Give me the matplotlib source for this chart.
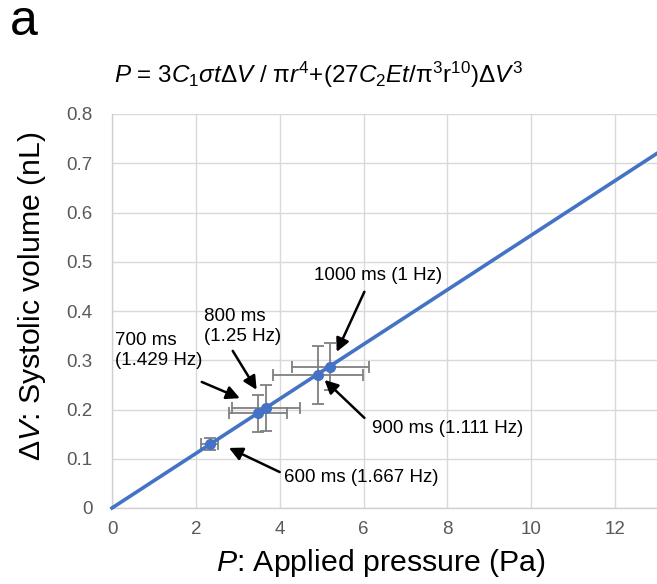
import matplotlib
matplotlib.use("Agg")
import matplotlib.pyplot as plt
import numpy as np

plt.rcParams['font.family'] = ['Liberation Sans', 'DejaVu Sans']
plt.rcParams['mathtext.fontset'] = 'custom'
plt.rcParams['mathtext.rm'] = 'Liberation Sans'
plt.rcParams['mathtext.it'] = 'Liberation Sans:italic'
plt.rcParams['mathtext.bf'] = 'Liberation Sans:bold'

# Data
labels = ["600 ms (1.667 Hz)", "700 ms\n(1.429 Hz)", "800 ms\n(1.25 Hz)",
          "900 ms (1.111 Hz)", "1000 ms (1 Hz)"]
pressure = [2.33, 3.48, 3.68, 4.91, 5.21]
pressure_err = [0.20, 0.70, 0.81, 1.07, 0.92]
volume = [0.130, 0.192, 0.203, 0.270, 0.287]
volume_err = [0.012, 0.038, 0.046, 0.059, 0.048]
fit_x = [0, 13]
fit_y = [0, 0.72]
xticks = [0, 2, 4, 6, 8, 10, 12]
yticks = [0, 0.1, 0.2, 0.3, 0.4, 0.5, 0.6, 0.7, 0.8]

blue = '#4472C4'
W, H = 657, 584
fig = plt.figure(figsize=(W / 100, H / 100), dpi=100)
ax = fig.add_axes([112 / W, 1 - 508 / H, (W - 112) / W, (508 - 114) / H])

ax.set_xlim(0, 13)
ax.set_ylim(0, 0.8)
ax.set_xticks(xticks)
ax.set_yticks(yticks)
ax.set_xticklabels([str(t) for t in xticks])
ax.set_yticklabels(['0'] + [f"{t:.1f}" for t in yticks[1:]])
ax.grid(True, color='#d9d9d9', lw=1.0, zorder=0)
ax.set_axisbelow(True)
for s in ['top', 'right']:
    ax.spines[s].set_visible(False)
for s in ['left', 'bottom']:
    ax.spines[s].set_color('#d0d0d0')
    ax.spines[s].set_linewidth(1.0)
ax.tick_params(length=0, labelsize=13.5, labelcolor='#595959')
ax.tick_params(axis='y', pad=14)
ax.tick_params(axis='x', pad=9)

ax.errorbar(pressure, volume, xerr=pressure_err, yerr=volume_err, fmt='none',
            ecolor='#7f7f7f', elinewidth=1.3, capsize=4.5, capthick=1.3, zorder=2)
ax.plot(fit_x, fit_y, color=blue, lw=2.6, zorder=3, clip_on=False)
ax.plot(pressure, volume, 'o', color=blue, ms=7, zorder=4)

# annotations: (text pos, tail, head)
ann = [
    ((4.10, 0.061), (4.00, 0.073), (2.79, 0.122)),
    ((0.07, 0.320), (2.14, 0.256), (3.05, 0.223)),
    ((2.19, 0.3685), (2.88, 0.319), (3.45, 0.240)),
    ((6.19, 0.162), (6.02, 0.183), (5.07, 0.260)),
    ((4.81, 0.473), (6.02, 0.439), (5.36, 0.317)),
]
for lab, (tp, tail, head) in zip(labels, ann):
    ax.text(tp[0], tp[1], lab, fontsize=13.5, ha='left', va='center',
            linespacing=1.2, zorder=5)
    ax.annotate('', xy=head, xytext=tail,
                arrowprops=dict(arrowstyle='-|>', color='black', lw=1.8,
                                mutation_scale=20, shrinkA=0, shrinkB=0),
                zorder=5)

fig.text(381 / W, 1 - 563 / H, r'$\mathit{P}$: Applied pressure (Pa)',
         fontsize=21.8, ha='center', va='center')
fig.text(32 / W, 1 - 296 / H, r'$\mathit{\Delta V}$: Systolic volume (nL)',
         fontsize=21.8, ha='center', va='center', rotation=90)

formula = (r'$\mathit{P}$ = 3$\mathit{C}_{\mathit{1}}\mathit{\sigma t\Delta V}$ / '
           r'π$\mathit{r}^{4}$+(27$\mathit{C}_{2}\mathit{Et}$/π$^{3}$r$^{10}$)'
           r'$\mathit{\Delta V}^{3}$')
fig.text(319 / W, 1 - 75 / H, formula, fontsize=17.5, ha='center', va='center')
fig.text(10 / W, 1 - 22 / H, 'a', fontsize=36, ha='left', va='center')

fig.savefig('out.png', dpi=100)
